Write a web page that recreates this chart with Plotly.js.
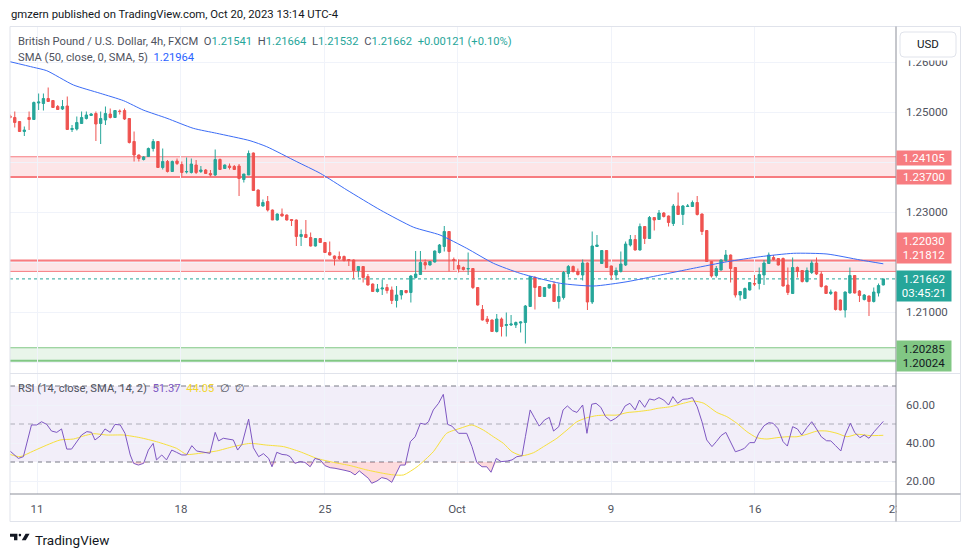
<!DOCTYPE html>
<html><head><meta charset="utf-8">
<script src="https://cdn.plot.ly/plotly-3.0.1.min.js"></script>
<style>html,body{margin:0;padding:0;background:#fff;}#chart{width:970px;height:557px;}</style>
</head><body><div id="chart"></div>
<script>
// ---------- DATA ----------
const openP = [
1.2492,1.2489,1.2481,1.2461,1.2489,1.2485,1.2518,1.2517,1.2527,1.2523,
1.2511,1.2506,1.2512,1.2465,1.2466,1.2477,1.2487,1.2493,1.2497,1.2477,
1.2484,1.2496,1.2489,1.2502,1.2503,1.2487,1.2441,1.2414,1.2405,1.2411,
1.2427,1.2441,1.2389,1.2401,1.2381,1.2402,1.2395,1.2380,1.2379,1.2394,
1.2381,1.2384,1.2377,1.2374,1.2405,1.2387,1.2392,1.2391,1.2392,1.2365,
1.2374,1.2418,1.2344,1.2312,1.2321,1.2304,1.2284,1.2296,1.2294,1.2285,
1.2284,1.2251,1.2255,1.2249,1.2232,1.2247,1.2239,1.2219,1.2212,1.2211,
1.2211,1.2205,1.2204,1.2183,1.2191,1.2171,1.2156,1.2141,1.2146,1.2149,
1.2144,1.2123,1.2134,1.2143,1.2139,1.2169,1.2175,1.2199,1.2194,1.2200,
1.2219,1.2231,1.2261,1.2205,1.2193,1.2189,1.2186,1.2187,1.2149,1.2105,
1.2086,1.2084,1.2061,1.2086,1.2073,1.2074,1.2074,1.2078,1.2079,1.2111,
1.2169,1.2151,1.2131,1.2148,1.2155,1.2121,1.2129,1.2177,1.2191,1.2181,
1.2174,1.2198,1.2120,1.2231,1.2197,1.2223,1.2192,1.2174,1.2181,1.2194,
1.2234,1.2245,1.2224,1.2271,1.2247,1.2289,1.2285,1.2298,1.2292,1.2277,
1.2312,1.2295,1.2311,1.2311,1.2319,1.2296,1.2263,1.2201,1.2173,1.2184,
1.2203,1.2214,1.2189,1.2134,1.2127,1.2144,1.2157,1.2157,1.2174,1.2197,
1.2209,1.2207,1.2207,1.2154,1.2137,1.2189,1.2183,1.2161,1.2179,1.2198,
1.2176,1.2152,1.2137,1.2140,1.2124,1.2104,1.2138,1.2173,1.2142,1.2125,
1.2132,1.2121,1.2138,1.21541];
const highP = [
1.2495,1.2501,1.2482,1.2471,1.2501,1.2521,1.2537,1.2537,1.2549,1.2524,
1.2514,1.2524,1.2531,1.2474,1.2491,1.2501,1.2501,1.2498,1.2501,1.2501,
1.2511,1.2507,1.2504,1.2505,1.2507,1.2488,1.2461,1.2415,1.2412,1.2429,
1.2446,1.2442,1.2427,1.2404,1.2403,1.2407,1.2401,1.2409,1.2407,1.2404,
1.2392,1.2386,1.2384,1.2425,1.2407,1.2395,1.2397,1.2394,1.2396,1.2376,
1.2423,1.2419,1.2345,1.2325,1.2332,1.2305,1.2297,1.2307,1.2295,1.2286,
1.2285,1.2265,1.2284,1.2259,1.2248,1.2248,1.2240,1.2241,1.2213,1.2221,
1.2213,1.2206,1.2205,1.2192,1.2192,1.2176,1.2157,1.2156,1.2165,1.2156,
1.2151,1.2152,1.2144,1.2144,1.2174,1.2222,1.2222,1.2205,1.2202,1.2223,
1.2236,1.2272,1.2262,1.2209,1.2205,1.2191,1.2219,1.2188,1.2150,1.2114,
1.2092,1.2085,1.2096,1.2089,1.2099,1.2094,1.2081,1.2081,1.2114,1.2172,
1.2172,1.2152,1.2150,1.2156,1.2161,1.2157,1.2182,1.2194,1.2193,1.2187,
1.2205,1.2199,1.2261,1.2254,1.2224,1.2224,1.2193,1.2189,1.2221,1.2241,
1.2254,1.2254,1.2277,1.2272,1.2292,1.2290,1.2304,1.2300,1.2293,1.2316,
1.2339,1.2314,1.2316,1.2323,1.2332,1.2297,1.2264,1.2202,1.2192,1.2205,
1.2224,1.2215,1.2190,1.2142,1.2149,1.2160,1.2174,1.2189,1.2204,1.2219,
1.2214,1.2208,1.2209,1.2189,1.2209,1.2191,1.2184,1.2189,1.2203,1.2209,
1.2181,1.2153,1.2145,1.2141,1.2125,1.2141,1.2189,1.2174,1.2144,1.2136,
1.2133,1.2149,1.2157,1.21664];
const lowP = [
1.2487,1.2469,1.2460,1.2452,1.2464,1.2484,1.2504,1.2503,1.2521,1.2508,
1.2504,1.2504,1.2464,1.2460,1.2463,1.2477,1.2485,1.2492,1.2442,1.2436,
1.2474,1.2487,1.2488,1.2495,1.2484,1.2437,1.2401,1.2401,1.2403,1.2410,
1.2421,1.2388,1.2385,1.2379,1.2380,1.2394,1.2371,1.2377,1.2377,1.2376,
1.2378,1.2376,1.2371,1.2372,1.2384,1.2386,1.2385,1.2384,1.2332,1.2359,
1.2374,1.2343,1.2311,1.2311,1.2301,1.2284,1.2283,1.2291,1.2283,1.2272,
1.2232,1.2232,1.2248,1.2231,1.2231,1.2238,1.2218,1.2213,1.2193,1.2204,
1.2201,1.2192,1.2167,1.2169,1.2159,1.2153,1.2140,1.2139,1.2134,1.2137,
1.2116,1.2109,1.2125,1.2137,1.2119,1.2167,1.2174,1.2185,1.2193,1.2199,
1.2217,1.2221,1.2181,1.2184,1.2179,1.2183,1.2174,1.2146,1.2113,1.2083,
1.2076,1.2060,1.2059,1.2051,1.2051,1.2072,1.2068,1.2059,1.2037,1.2110,
1.2105,1.2130,1.2130,1.2147,1.2120,1.2107,1.2125,1.2169,1.2179,1.2173,
1.2163,1.2104,1.2116,1.2230,1.2196,1.2188,1.2164,1.2164,1.2179,1.2192,
1.2231,1.2223,1.2223,1.2236,1.2246,1.2263,1.2284,1.2289,1.2271,1.2272,
1.2294,1.2274,1.2310,1.2310,1.2293,1.2254,1.2201,1.2169,1.2169,1.2183,
1.2201,1.2159,1.2129,1.2123,1.2126,1.2143,1.2152,1.2145,1.2154,1.2196,
1.2203,1.2193,1.2151,1.2134,1.2136,1.2169,1.2159,1.2159,1.2176,1.2174,
1.2149,1.2136,1.2134,1.2103,1.2103,1.2089,1.2137,1.2137,1.2120,1.2123,
1.2092,1.2119,1.2131,1.21532];
const closeP = [
1.2489,1.2479,1.2461,1.2464,1.2485,1.2519,1.2520,1.2527,1.2521,1.2509,
1.2505,1.2511,1.2465,1.2467,1.2479,1.2489,1.2494,1.2496,1.2476,1.2487,
1.2497,1.2489,1.2503,1.2501,1.2486,1.2439,1.2414,1.2407,1.2410,1.2427,
1.2441,1.2389,1.2401,1.2381,1.2401,1.2397,1.2379,1.2381,1.2396,1.2379,
1.2384,1.2377,1.2374,1.2405,1.2385,1.2394,1.2389,1.2385,1.2367,1.2376,
1.2417,1.2343,1.2312,1.2319,1.2304,1.2284,1.2296,1.2292,1.2284,1.2283,
1.2251,1.2255,1.2249,1.2232,1.2247,1.2239,1.2219,1.2214,1.2207,1.2207,
1.2203,1.2203,1.2183,1.2191,1.2169,1.2154,1.2141,1.2146,1.2148,1.2143,
1.2123,1.2134,1.2143,1.2139,1.2172,1.2176,1.2199,1.2194,1.2201,1.2222,
1.2234,1.2261,1.2221,1.2203,1.2186,1.2185,1.2187,1.2149,1.2114,1.2084,
1.2081,1.2061,1.2086,1.2071,1.2075,1.2076,1.2079,1.2080,1.2112,1.2171,
1.2149,1.2131,1.2149,1.2155,1.2121,1.2131,1.2179,1.2191,1.2181,1.2175,
1.2198,1.2120,1.2232,1.2234,1.2223,1.2189,1.2174,1.2183,1.2196,1.2236,
1.2245,1.2224,1.2271,1.2247,1.2289,1.2284,1.2298,1.2291,1.2279,1.2312,
1.2295,1.2312,1.2312,1.2319,1.2295,1.2261,1.2201,1.2172,1.2187,1.2204,
1.2214,1.2187,1.2134,1.2141,1.2147,1.2159,1.2156,1.2175,1.2198,1.2214,
1.2205,1.2194,1.2152,1.2139,1.2189,1.2181,1.2161,1.2183,1.2198,1.2176,
1.2151,1.2137,1.2140,1.2105,1.2104,1.2140,1.2173,1.2138,1.2133,1.2134,
1.2121,1.2140,1.2153,1.21662];

// SMA(50) line read at bar positions
const smaX = [0,4.9,7.7,13.3,18.9,23.8,27.9,32.9,38.4,43.3,50.3,53.8,60.1,65.0,70.6,77.6,84.6,90.1,95.7,101.3,106.9,115.3,122.3,129.3,136.3,143.2,150.3,157.2,164.2,171.2,178.2,183];
const smaV = [1.26006,1.25894,1.25826,1.2554,1.25374,1.25226,1.2504,1.24874,1.24674,1.24574,1.24426,1.24306,1.24006,1.23774,1.2344,1.2304,1.22694,1.2254,1.22274,1.21974,1.21774,1.21574,1.2152,1.21606,1.2174,1.21874,1.22006,1.22106,1.22174,1.2216,1.2204,1.21964];

// RSI(14) read at bar positions
const rsiX = [0,1.75,2.8,4.5,5.6,6.6,7.7,8.7,9.8,10.8,11.9,12.9,15.0,16.1,17.1,17.8,18.9,19.9,21.0,22.0,
23.1,24.1,25.2,25.9,26.9,28.0,29.0,30.0,30.7,31.8,32.8,33.9,34.9,36.0,37.0,38.1,39.1,40.2,41.2,41.9,
43.0,43.7,44.7,45.8,46.8,47.7,48.6,50.0,51.0,52.1,53.1,54.2,54.9,55.9,57.0,58.0,58.7,59.7,60.8,61.8,
62.9,63.9,65.0,66.0,67.1,68.1,69.2,70.2,71.3,72.3,73.2,74.1,75.1,75.8,76.9,77.9,79.0,80.0,81.8,82.8,
83.9,84.9,86.0,87.0,87.7,88.7,89.8,90.8,91.7,92.6,
94.0,95.7,96.8,97.8,98.9,99.9,100.8,101.9,102.9,104.2,105.2,106.2,107.3,108.0,109.0,109.9,110.9,112.0,113.0,113.9,
115.0,115.9,116.8,117.9,118.8,120.0,120.9,121.9,122.8,123.8,124.8,125.9,126.9,127.9,128.9,129.9,131.0,131.9,133.0,134.0,
135.0,136.0,137.0,138.0,138.9,139.9,141.0,142.0,143.0,144.0,145.0,146.0,147.1,148.0,149.0,150.0,151.0,152.0,153.1,153.9,
155.0,156.0,156.9,158.0,159.0,159.9,160.9,162.0,162.9,164.0,165.0,165.9,167.0,168.0,169.0,170.0,171.1,172.0,173.0,174.1,
175.0,176.1,177.0,178.1,179.0,180.0,181.1,182.1,183.0];
const rsiV = [35.8,31.9,32.8,49.5,49.5,51.2,49.8,46.3,45.6,47.4,36.8,36.8,44.2,46.0,45.6,41.6,43.7,47.4,45.6,49.8,
49.5,45.1,33.7,29.3,28.4,29.3,36.3,39.8,31.1,33.7,31.1,36.3,35.1,33.7,33.7,38.6,35.8,35.4,35.1,34.6,
45.6,41.1,42.5,42.1,41.6,36.3,39.3,52.6,37.5,32.8,34.4,31.9,27.5,35.1,34.0,33.7,32.8,29.3,30.2,29.8,
27.5,31.9,31.1,28.1,27.0,26.7,26.3,25.6,24.9,23.2,25.3,23.2,21.4,18.8,20.0,21.8,21.1,19.3,28.4,28.4,
40.7,43.3,50.4,49.8,51.2,57.4,60.9,65.6,49.8,48.9,
45.1,45.1,38.1,29.8,27.5,27.5,24.6,31.9,30.2,30.5,31.1,32.8,33.3,43.3,57.4,53.3,48.9,52.1,53.5,46.3,
48.6,57.4,59.5,57.0,56.1,60.0,45.1,60.4,60.9,58.8,53.9,51.6,53.0,55.1,59.5,60.9,57.4,62.6,58.8,63.2,
62.6,63.9,62.6,60.0,64.4,60.9,63.0,63.2,63.9,59.1,51.2,41.6,38.1,40.7,43.9,45.6,40.7,35.4,36.3,37.2,
40.2,40.2,45.1,49.1,50.7,50.4,47.7,40.7,38.4,48.6,47.4,44.2,48.1,51.2,47.4,43.3,41.2,41.1,38.6,35.8,
44.2,50.4,45.6,42.8,44.2,42.5,46.0,48.6,51.37];

// RSI-based MA(14)
const maX = [0,2.1,4.9,7.7,10.5,13.3,15.4,17.5,20.3,23.8,27.3,30.7,34.9,37.0,39.8,43.3,46.8,50.3,53.8,57.3,
60.8,64.3,67.8,71.3,74.8,78.3,80.4,82.5,85.3,88.7,91.5,94.3,96.8,99.2,101.3,103.4,105.2,107.3,109.7,111.8,
114.6,116.7,118.8,120.9,122.9,125.1,127.2,129.3,131.4,134.2,135.6,138.4,141.1,143.3,145.4,148.1,150.2,152.3,154.4,156.5,
158.6,160.7,162.8,164.9,167.0,169.1,171.2,173.3,175.4,177.5,180.3,183.0];
const maV = [34.0,32.8,35.8,38.9,41.6,42.1,43.7,44.9,44.2,44.2,42.8,40.7,37.2,34.0,34.6,35.8,38.1,39.8,38.9,38.1,
35.4,31.9,29.8,28.1,25.8,24.0,23.2,23.2,27.5,35.4,45.1,47.7,49.5,46.8,43.3,39.8,35.4,33.3,34.9,38.1,
42.5,46.8,51.2,53.3,54.4,54.7,54.7,56.0,56.5,57.4,58.2,59.1,60.9,62.1,60.9,56.1,53.9,50.4,46.0,42.8,
42.1,42.8,43.3,43.3,44.6,46.3,46.3,45.1,43.3,44.6,43.9,44.05];

// time axis labels (bar index of first bar of the day)
const tickPos = [5.66, 35.83, 66.0, 93.67, 125.94, 156.1, 185.5];
const tickText = ['11','18','25','Oct','9','16','23'];

// price scale
const priceTicks = [1.20,1.21,1.22,1.23,1.24,1.25,1.26];
const priceTickText = ['','1.21000','','1.23000','','1.25000','1.26000'];

// zones
const redZoneA = [1.23700, 1.24105];
const redZoneB = [1.21812, 1.22030];
const greenZone = [1.20024, 1.20285];
const rsiLevels = [30, 50, 70];

// ---------- LAYOUT HELPERS ----------
const W = 970, H = 557, ML = 10, MR = 74, MT = 27, MB = 63;
const plotW = W - ML - MR, plotH = H - MT - MB;
const px = x => (x - ML) / plotW;
const py = y => (H - MB - y) / plotH;
const FONT = 'Roboto, "Liberation Sans", Arial, sans-serif';
const GREY = '#50535e';
const UP = '#26a69a', DOWN = '#ef5350';
const ZONE_RED = '#f77c80';
const ZONE_GREEN = '#81c784';

const idx = closeP.map((_, i) => i);
const n = closeP.length;
const f5 = v => v.toFixed(5);

const traces = [
  {type:'candlestick', x:idx, open:openP, high:highP, low:lowP, close:closeP, xaxis:'x', yaxis:'y',
   increasing:{line:{color:UP,width:1}, fillcolor:UP},
   decreasing:{line:{color:DOWN,width:1}, fillcolor:DOWN},
   whiskerwidth:0, hoverinfo:'skip', showlegend:false},
  {type:'scatter', mode:'lines', x:smaX, y:smaV, xaxis:'x', yaxis:'y',
   line:{color:'#3b6cf6', width:1, shape:'spline', smoothing:0.6}, hoverinfo:'skip'},
  {type:'scatter', mode:'lines', x:rsiX, y:rsiX.map(() => rsiLevels[0]), xaxis:'x', yaxis:'y2',
   line:{width:0}, hoverinfo:'skip'},
  {type:'scatter', mode:'lines', x:rsiX, y:rsiV.map(v => Math.min(v, rsiLevels[0])), xaxis:'x', yaxis:'y2',
   line:{width:0}, fill:'tonexty', fillcolor:'rgba(242,54,69,0.18)', hoverinfo:'skip'},
  {type:'scatter', mode:'lines', x:maX, y:maV, xaxis:'x', yaxis:'y2',
   line:{color:'#f7e03c', width:1, shape:'spline', smoothing:0.6}, hoverinfo:'skip'},
  {type:'scatter', mode:'lines', x:rsiX, y:rsiV, xaxis:'x', yaxis:'y2',
   line:{color:'#7e57c2', width:1}, hoverinfo:'skip'}
];

const shapes = [];
// RSI band and levels
shapes.push({type:'rect', xref:'paper', x0:0, x1:1, yref:'y2', y0:rsiLevels[0], y1:rsiLevels[2],
  fillcolor:'rgba(126,87,194,0.1)', line:{width:0}, layer:'below'});
rsiLevels.forEach((lv, k) => shapes.push({type:'line', xref:'paper', x0:0, x1:1, yref:'y2', y0:lv, y1:lv,
  line:{color: k===1 ? 'rgba(120,123,134,0.55)' : '#787b86', width:1, dash:'5px,4px'}, layer:'between'}));
// zones
function zone(z, fill, col, thickLow) {
  shapes.push({type:'rect', xref:'paper', x0:0, x1:1, yref:'y', y0:z[0], y1:z[1], fillcolor:fill, line:{width:0}, layer:'between'});
  shapes.push({type:'line', xref:'paper', x0:0, x1:1, yref:'y', y0:z[0], y1:z[0], line:{color:col, width: thickLow ? 2 : 1}, layer:'between'});
  shapes.push({type:'line', xref:'paper', x0:0, x1:1, yref:'y', y0:z[1], y1:z[1], line:{color:col, width: thickLow ? 1 : 2}, layer:'between'});
}
zone(redZoneA, 'rgba(242,54,69,0.13)', ZONE_RED, true);
zone(redZoneB, 'rgba(242,54,69,0.13)', ZONE_RED, false);
zone(greenZone, 'rgba(76,175,80,0.12)', ZONE_GREEN, true);
// current price dotted line
shapes.push({type:'line', xref:'paper', x0:0, x1:1, yref:'y', y0:closeP[n-1], y1:closeP[n-1],
  line:{color:UP, width:1, dash:'dot'}, layer:'between'});
// frame pieces
shapes.push({type:'rect', xref:'paper', yref:'paper', x0:px(896.5), x1:px(961), y0:py(521), y1:py(494.5), fillcolor:'#fff', line:{width:0}, layer:'above'});
shapes.push({type:'rect', xref:'paper', yref:'paper', x0:px(897), x1:px(961), y0:py(60.5), y1:py(28), fillcolor:'#fff', line:{width:0}, layer:'above'});
shapes.push({type:'rect', xref:'paper', yref:'paper', x0:px(10), x1:px(960.5), y0:py(521.5), y1:py(26.5), line:{color:'#e0e3eb', width:1}, layer:'above'});
shapes.push({type:'line', xref:'paper', yref:'paper', x0:px(10), x1:px(960.5), y0:py(373.5), y1:py(373.5), line:{color:'#e0e3eb', width:1}, layer:'above'});
shapes.push({type:'line', xref:'paper', yref:'paper', x0:px(10), x1:px(960.5), y0:py(494), y1:py(494), line:{color:'#8c8f99', width:1}, layer:'above'});
shapes.push({type:'line', xref:'paper', yref:'paper', x0:px(896), x1:px(896), y0:py(521.5), y1:py(26.5), line:{color:'#8c8f99', width:1}, layer:'above'});
// USD button
(function(){
  const x0=px(900), x1=px(956), y0=py(57), y1=py(32), r=4;
  const rx=r/plotW, ry=r/plotH;
  shapes.push({type:'path', xref:'paper', yref:'paper', layer:'above', fillcolor:'#fff', line:{color:'#e0e3eb', width:1},
    path:`M ${x0+rx} ${y0} L ${x1-rx} ${y0} Q ${x1} ${y0} ${x1} ${y0+ry} L ${x1} ${y1-ry} Q ${x1} ${y1} ${x1-rx} ${y1} L ${x0+rx} ${y1} Q ${x0} ${y1} ${x0} ${y1-ry} L ${x0} ${y0+ry} Q ${x0} ${y0} ${x0+rx} ${y0} Z`});
})();
// TradingView logo glyph
const P = (x, y) => `${px(x)} ${py(y)}`;
shapes.push({type:'path', xref:'paper', yref:'paper', layer:'above', fillcolor:'#131722', line:{width:0},
  path:`M ${P(10,533.7)} L ${P(17.4,533.7)} L ${P(17.4,540.2)} L ${P(14,540.2)} L ${P(14,536.8)} L ${P(10,536.8)} Z`});
shapes.push({type:'circle', xref:'paper', yref:'paper', layer:'above', fillcolor:'#131722', line:{width:0},
  x0:px(18.6), x1:px(21.2), y0:py(536.4), y1:py(533.8)});
shapes.push({type:'path', xref:'paper', yref:'paper', layer:'above', fillcolor:'#131722', line:{width:0},
  path:`M ${P(25.6,533.7)} L ${P(29.6,533.7)} L ${P(25.8,540.2)} L ${P(21.8,540.2)} Z`});

// annotations
const ann = [];
const T = (x, y, text, size, color, extra) => ann.push(Object.assign({xref:'paper', yref:'paper', x:px(x), y:py(y), xanchor:'left', yanchor:'middle',
  text, showarrow:false, font:{family:FONT, size, color}}, extra || {}));
T(9, 14, 'gmzern published on TradingView.com, Oct 20, 2023 13:14 UTC-4', 11.3, '#131722');
const o = openP[n-1], h = highP[n-1], l = lowP[n-1], c = closeP[n-1];
const chg = c - o;
const sp = '\u00a0\u00a0';
const tc = s => `<span style="color:${UP}">${s}</span>`;
T(16, 41, `British Pound / U.S. Dollar, 4h, FXCM${sp}O${tc(f5(o))}${sp}H${tc(f5(h))}${sp}L${tc(f5(l))}${sp}C${tc(f5(c))}${sp}${tc('+' + chg.toFixed(5) + ' (+' + (chg / o * 100).toFixed(2) + '%)')}`, 11.2, GREY);
T(16, 58, `SMA (50, close, 0, SMA, 5)${sp}<span style="color:#2962ff">${f5(smaV[smaV.length-1])}</span>`, 11.2, GREY);
T(16, 388, `RSI (14, close, SMA, 14, 2)${sp}<span style="color:#7e57c2">${rsiV[rsiV.length-1].toFixed(2)}</span>${sp}<span style="color:#f2d630">${maV[maV.length-1].toFixed(2)}</span>${sp}∅${sp}∅`, 11.2, GREY);
T(928, 44.5, 'USD', 11.5, '#131722', {xanchor:'center'});
T(33, 539.5, 'TradingView', 13.5, '#131722');

// price scale labels
const L = (y, yshift, text, bg, fc, hgt) => ann.push({xref:'paper', yref:'y', x:px(924), y, yshift, xanchor:'center', yanchor:'middle',
  text, showarrow:false, bgcolor:bg, borderpad:1, width:52, height:hgt, font:{family:FONT, size:11.5, color:fc}});
L(redZoneA[1], -0.75, f5(redZoneA[1]), ZONE_RED, '#fff', 12);
L(redZoneA[0], 0.5, f5(redZoneA[0]), ZONE_RED, '#fff', 12);
L((redZoneB[0] + redZoneB[1]) / 2, 17.5, f5(redZoneB[1]) + '<br>' + f5(redZoneB[0]), ZONE_RED, '#fff', 28);
L(c, -6.8, f5(c) + '<br>03:45:21', UP, '#fff', 28);
L((greenZone[0] + greenZone[1]) / 2, -1.9, f5(greenZone[1]) + '<br>' + f5(greenZone[0]), ZONE_GREEN, '#131722', 28);

const axisFont = {family:FONT, size:11.5, color:GREY};
const layout = {
  width:W, height:H, margin:{l:ML, r:MR, t:MT, b:MB, pad:0},
  paper_bgcolor:'#fff', plot_bgcolor:'#fff', showlegend:false, hovermode:false,
  xaxis:{domain:[0,1], anchor:'y2', range:[0, 185.66], tickmode:'array', tickvals:tickPos, ticktext:tickText,
    showgrid:true, gridcolor:'#f0f3fa', zeroline:false, showline:false, ticks:'', tickfont:axisFont,
    ticklabelstandoff:6, rangeslider:{visible:false}, fixedrange:true},
  yaxis:{domain:[(H-MB-373)/plotH, 1], anchor:'x', side:'right', range:[1.1978, 1.267],
    tickmode:'array', tickvals:priceTicks, ticktext:priceTickText, showgrid:true, gridcolor:'#f0f3fa',
    zeroline:false, showline:false, ticks:'', tickfont:axisFont, ticklabelstandoff:9, fixedrange:true},
  yaxis2:{domain:[0, (H-MB-374)/plotH], anchor:'x', side:'right', range:[13.16, 76.32],
    tickmode:'array', tickvals:[20,40,60], ticktext:['20.00','40.00','60.00'], showgrid:true, gridcolor:'#f0f3fa',
    zeroline:false, showline:false, ticks:'', tickfont:axisFont, ticklabelstandoff:9, fixedrange:true},
  shapes, annotations:ann
};
Plotly.newPlot('chart', traces, layout, {displayModeBar:false, staticPlot:true});
</script>
</body></html>
